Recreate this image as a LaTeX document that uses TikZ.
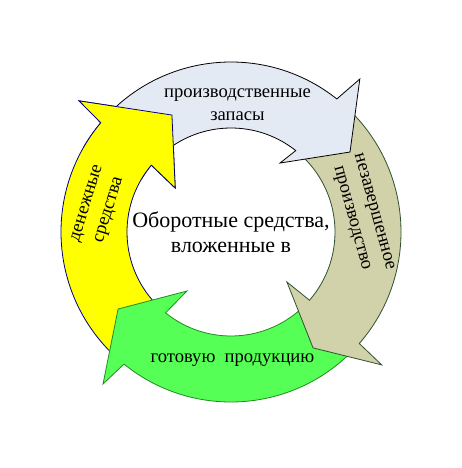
\documentclass[tikz,border=0pt]{standalone}
\usepackage{fontspec}
\setmainfont{Liberation Serif}
\usepackage{tikz}
\definecolor{stockblue}{HTML}{E4EAF4}
\definecolor{moneyyellow}{HTML}{FFFF00}
\definecolor{moneyline}{HTML}{000080}
\definecolor{workkhaki}{HTML}{D1D1AA}
\definecolor{workline}{HTML}{2F5030}
\definecolor{goodsgreen}{HTML}{55FF55}
\definecolor{goodsline}{HTML}{228B22}
\newcommand{\cycarrow}[6]{%
  \filldraw[#1] (#2:170) arc[start angle=#2, end angle=#3, radius=170pt]
    -- (#4) -- (#5) -- (#6) -- (#3:104)
    arc[start angle=#3, end angle=#2, radius=104pt];}

\begin{document}
\begin{tikzpicture}[x=1pt, y=1pt, line width=0.8pt,
        money/.style={fill=moneyyellow, draw=moneyline},
        stocks/.style={fill=stockblue, draw=black},
        work/.style={fill=workkhaki, draw=workline},
        goods/.style={fill=goodsgreen, draw=goodsline},
        lbl/.style={font=\fontsize{18.6}{23}\selectfont, align=center, inner sep=0pt}]
        \useasboundingbox (-231, -236) rectangle (231, 232);
        \cycarrow{money}{226}{140}{139.2:200.7}{116.8:131}{141.8:71}
        \cycarrow{goods}{-44}{-129}{-130.1:198.7}{-145.7:136.7}{-126.7:73.6}
        \cycarrow{work}{46}{-41}{-41.4:201}{-54.7:142}{-41.8:75}
        \cycarrow{stocks}{135}{51.5}{49.9:200}{33.9:143.4}{54.6:84.6}
        \cycarrow{money}{150}{140}{139.2:200.7}{116.8:131}{141.8:71}

        \node[lbl] (stocks) at (6.5, 127) {производственные\\запасы};
        \node[lbl, rotate=-74.5] (work) at (131, 17) {незавершенное\\производство};
        \node[lbl] (goods) at (1.5, -128) {готовую\ \ продукцию};
        \node[lbl, rotate=73] (money) at (-132, 25) {денежные\\средства};
        \node[font=\fontsize{22}{25.5}\selectfont, align=center, inner sep=0pt] (centre) at (0, 0) {Оборотные средства,\\вложенные в};
      \end{tikzpicture}
\end{document}
